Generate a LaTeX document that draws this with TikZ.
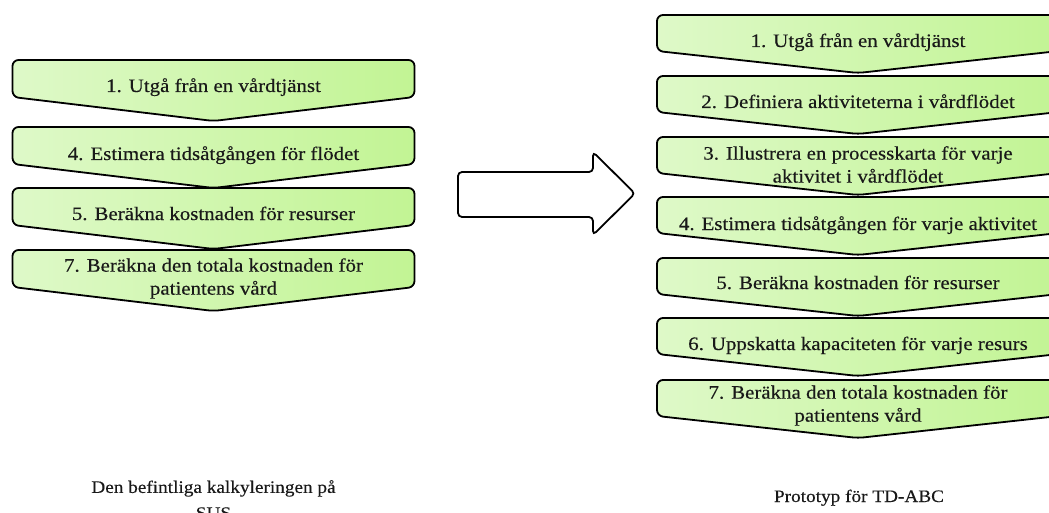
\documentclass[tikz,border=0pt]{standalone}
\usepackage{fontspec}
\setmainfont[FakeStretch=1.1,FakeBold=0.35]{Liberation Serif}

\definecolor{boxleft}{RGB}{222,249,200}
\definecolor{boxright}{RGB}{194,244,148}

\tikzset{
  flowshape/.style={draw=black, line width=1.8pt, rounded corners=6pt,
    left color=boxleft, right color=boxright},
  flowtext/.style={font=\fontsize{19}{23}\selectfont, align=center,
    text=black!90, inner sep=0pt},
  captiontext/.style={font=\fontsize{17.5}{26}\selectfont, align=center,
    text=black!90, inner sep=0pt},
  blockarrow/.style={draw=black, line width=1.8pt, rounded corners=4pt, fill=white}
}

% half width of every step shape
\newcommand{\halfw}{201}
% step shape: #1 name, #2 centre x, #3 top y, #4 side height, #5 depth of the point
\newcommand{\flowbox}[5]{%
  \path[flowshape] (#2-\halfw,#3) -- (#2+\halfw,#3) -- (#2+\halfw,#3+#4)
    -- (#2,#3+#4+#5) -- (#2-\halfw,#3+#4) -- cycle;
  \coordinate (#1) at (#2,#3);}

\begin{document}
\begin{tikzpicture}[x=1pt,y=-1pt]
  \useasboundingbox (0,0) rectangle (1049,513);
  \clip (0,0) rectangle (1049,513);

  % current costing
  \flowbox{bl1}{213.5}{60}{37}{24}
  \flowbox{bl4}{213.5}{127}{37}{24}
  \flowbox{bl5}{213.5}{188}{37}{24}
  \flowbox{bl7}{213.5}{250}{37}{24}
  \node[flowtext, anchor=base] (l1) at (213.5,92) {1. Utgå från en vårdtjänst};
  \node[flowtext, anchor=base] (l4) at (213.5,160) {4. Estimera tidsåtgången för flödet};
  \node[flowtext, anchor=base] (l5) at (213.5,220) {5. Beräkna kostnaden för resurser};
  \node[flowtext] (l7) at (213.5,278.5) {7. Beräkna den totala kostnaden för\\patientens vård};

  % transition arrow
  \path[blockarrow] (458,172) -- (593,172) -- (593,152) -- (635,193.5)
    -- (593,235) -- (593,217) -- (458,217) -- cycle;

  % TD-ABC prototype
  \flowbox{br1}{858}{15}{36}{22}
  \flowbox{br2}{858}{76}{36}{22}
  \flowbox{br3}{858}{137}{36}{22}
  \flowbox{br4}{858}{197}{36}{22}
  \flowbox{br5}{858}{258}{36}{22}
  \flowbox{br6}{858}{318}{36}{22}
  \flowbox{br7}{858}{380}{36}{22}
  \node[flowtext, anchor=base] (r1) at (858,47) {1. Utgå från en vårdtjänst};
  \node[flowtext, anchor=base] (r2) at (858,108) {2. Definiera aktiviteterna i vårdflödet};
  \node[flowtext] (r3) at (858,164.5) {3. Illustrera en processkarta för varje\\aktivitet i vårdflödet};
  \node[flowtext, anchor=base] (r4) at (858,230) {4. Estimera tidsåtgången för varje aktivitet};
  \node[flowtext, anchor=base] (r5) at (858,289) {5. Beräkna kostnaden för resurser};
  \node[flowtext, anchor=base] (r6) at (858,350) {6. Uppskatta kapaciteten för varje resurs};
  \node[flowtext] (r7) at (858,405.5) {7. Beräkna den totala kostnaden för\\patientens vård};

  % captions
  \node[captiontext, anchor=north] (capL) at (213.5,480) {Den befintliga kalkyleringen på\\SUS};
  \node[captiontext, anchor=base] (capR) at (859,502) {Prototyp för TD-ABC};
\end{tikzpicture}
\end{document}
